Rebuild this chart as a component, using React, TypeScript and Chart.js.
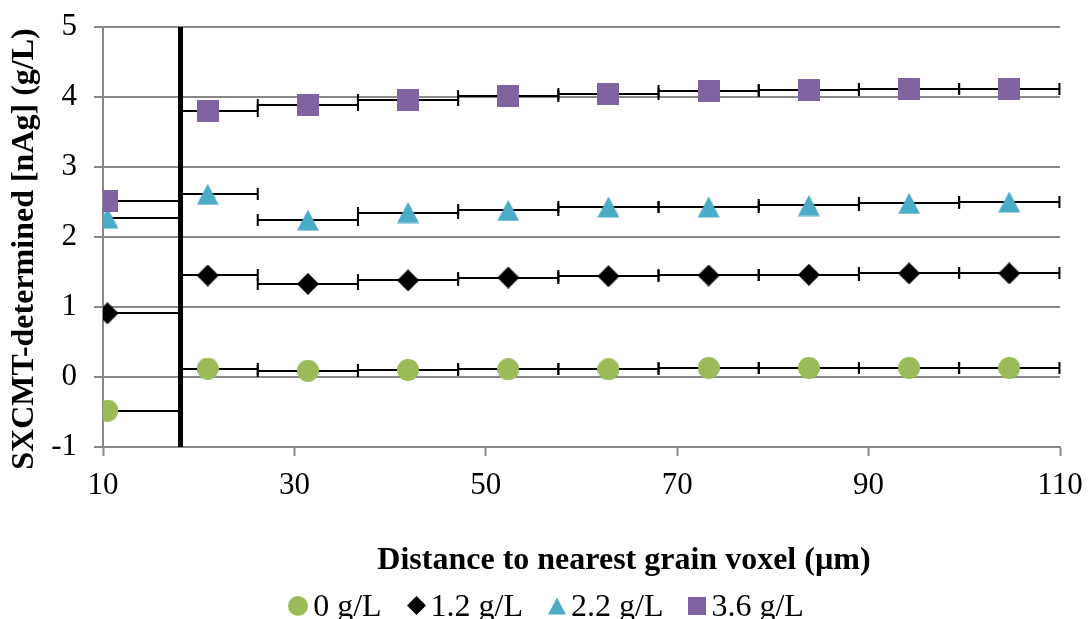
import React, { useEffect, useRef } from 'react';
import { Chart, registerables } from 'chart.js';

Chart.register(...registerables);

// Bin centres (µm) and the extent of each distance bin
const distances = [10.47, 20.94, 31.41, 41.88, 52.35, 62.82, 73.29, 83.76, 94.23, 104.7];
const binLow = [10.47, 18.1, 26.17, 36.64, 47.11, 57.58, 68.05, 78.52, 88.99, 99.46];
const binHigh = [18.1, 26.17, 36.64, 47.11, 57.58, 68.05, 78.52, 88.99, 99.46, 109.94];

// Boundary drawn as a heavy vertical rule
const cutoffDistance = 18.1;

// SXCMT-determined nAg concentration per bin (g/L)
const conc0 = [-0.48, 0.12, 0.09, 0.10, 0.11, 0.11, 0.13, 0.13, 0.13, 0.13];
const conc12 = [0.91, 1.45, 1.33, 1.38, 1.42, 1.44, 1.45, 1.46, 1.48, 1.48];
const conc22 = [2.27, 2.61, 2.24, 2.35, 2.38, 2.43, 2.43, 2.45, 2.48, 2.50];
const conc36 = [2.52, 3.80, 3.89, 3.96, 4.01, 4.05, 4.09, 4.10, 4.11, 4.11];

const seriesLabels = ['0 g/L', '1.2 g/L', '2.2 g/L', '3.6 g/L'];
const seriesValues = [conc0, conc12, conc22, conc36];
const seriesColors = ['#9BBB59', '#000000', '#4BACC6', '#8064A2'];
const seriesShapes = ['circle', 'diamond', 'triangle', 'square'];

const xTitle = 'Distance to nearest grain voxel (µm)';
const yTitle = 'SXCMT-determined [nAg] (g/L)';

const SERIF = '"Times New Roman", "Liberation Serif", serif';
const GRID = '#888888';

function makeMarker(shape: string, color: string, size: number): HTMLCanvasElement {
  const c = document.createElement('canvas');
  c.width = size;
  c.height = size;
  const g = c.getContext('2d') as CanvasRenderingContext2D;
  g.fillStyle = color;
  g.beginPath();
  const h = size / 2;
  if (shape === 'circle') {
    g.arc(h, h, h, 0, Math.PI * 2);
  } else if (shape === 'diamond') {
    g.moveTo(h, 0);
    g.lineTo(size, h);
    g.lineTo(h, size);
    g.lineTo(0, h);
    g.closePath();
  } else if (shape === 'triangle') {
    g.moveTo(h, 0.5);
    g.lineTo(size, size - 0.5);
    g.lineTo(0, size - 0.5);
    g.closePath();
  } else {
    g.rect(0, 0, size, size);
  }
  g.fill();
  return c;
}

// Horizontal bars spanning each distance bin, with end caps
const binBarsPlugin = {
  id: 'binBars',
  beforeDatasetsDraw(chart: any) {
    const { ctx, scales } = chart;
    const x = scales.x;
    const y = scales.y;
    ctx.save();
    ctx.strokeStyle = '#000000';
    ctx.lineWidth = 2;
    seriesValues.forEach((vals) => {
      vals.forEach((v, i) => {
        const py = Math.round(y.getPixelForValue(v));
        const x0 = x.getPixelForValue(binLow[i]);
        const x1 = x.getPixelForValue(binHigh[i]);
        ctx.beginPath();
        ctx.moveTo(x0, py);
        ctx.lineTo(x1, py);
        ctx.moveTo(x0, py - 6);
        ctx.lineTo(x0, py + 6);
        ctx.moveTo(x1, py - 6);
        ctx.lineTo(x1, py + 6);
        ctx.stroke();
      });
    });
    ctx.restore();
  },
};

// Axis titles and the legend row
const labelsPlugin = {
  id: 'labels',
  afterDraw(chart: any) {
    const { ctx } = chart;
    ctx.save();
    ctx.fillStyle = '#000000';

    ctx.font = `bold 32px ${SERIF}`;
    ctx.textAlign = 'center';
    ctx.textBaseline = 'alphabetic';
    ctx.fillText(xTitle, 624, 569);

    ctx.save();
    ctx.translate(33, 249);
    ctx.rotate(-Math.PI / 2);
    ctx.fillText(yTitle, 0, 0);
    ctx.restore();

    ctx.font = `32px ${SERIF}`;
    ctx.textAlign = 'left';
    const markerSizes = [20, 19, 18, 18];
    const gapMarker = 5;
    const gapItem = 25;
    const widths = seriesLabels.map((t) => ctx.measureText(t).width);
    let total = 0;
    widths.forEach((w, i) => {
      total += markerSizes[i] + gapMarker + w;
      if (i < widths.length - 1) total += gapItem;
    });
    let cx = 546 - total / 2;
    const baseline = 616;
    const midY = 605.5;
    seriesLabels.forEach((t, i) => {
      const s = markerSizes[i];
      const m = makeMarker(seriesShapes[i], seriesColors[i], s);
      ctx.drawImage(m, Math.round(cx), Math.round(midY - s / 2));
      cx += s + gapMarker;
      ctx.fillText(t, cx, baseline);
      cx += widths[i] + gapItem;
    });
    ctx.restore();
  },
};

export default function App() {
  const ref = useRef<HTMLCanvasElement | null>(null);

  useEffect(() => {
    if (!ref.current) return;
    const datasets: any[] = seriesLabels.map((label, si) => ({
      label,
      data: distances.map((d, i) => ({ x: d, y: seriesValues[si][i] })),
      pointStyle: makeMarker(seriesShapes[si], seriesColors[si], 22),
      pointRadius: 11,
      pointHoverRadius: 11,
      backgroundColor: seriesColors[si],
      borderColor: seriesColors[si],
      showLine: false,
      order: 10 - si,
    }));
    datasets.push({
      label: 'cutoff',
      data: [
        { x: cutoffDistance, y: -1 },
        { x: cutoffDistance, y: 5 },
      ],
      showLine: true,
      borderColor: '#000000',
      borderWidth: 5,
      pointRadius: 0,
      borderCapStyle: 'butt',
      order: 0,
    });

    const chart = new Chart(ref.current, {
      type: 'scatter',
      data: { datasets },
      plugins: [binBarsPlugin, labelsPlugin],
      options: {
        animation: false,
        responsive: false,
        layout: { padding: { left: 0, right: 28, top: 27, bottom: 0 } },
        plugins: {
          legend: { display: false },
          tooltip: { enabled: false },
        },
        scales: {
          x: {
            type: 'linear',
            min: 10,
            max: 110,
            ticks: {
              stepSize: 20,
              color: '#000000',
              font: { family: SERIF, size: 31 },
              padding: 11,
              maxRotation: 0,
            },
            grid: {
              drawOnChartArea: false,
              drawTicks: true,
              tickLength: 9,
              tickColor: GRID,
              tickWidth: 2,
              color: GRID,
            },
            border: { display: true, color: GRID, width: 2 },
            afterFit: (s: any) => {
              s.height = 172;
              s.paddingLeft = 0;
              s.paddingRight = 0;
            },
          },
          y: {
            type: 'linear',
            min: -1,
            max: 5,
            ticks: {
              stepSize: 1,
              color: '#000000',
              font: { family: SERIF, size: 31 },
              padding: 17,
            },
            grid: {
              color: GRID,
              lineWidth: 2,
              drawTicks: true,
              tickLength: 9,
              tickColor: GRID,
              tickWidth: 2,
            },
            border: { display: true, color: GRID, width: 2 },
            afterFit: (s: any) => {
              s.width = 103;
              s.paddingTop = 0;
              s.paddingBottom = 0;
            },
          },
        },
      },
    });
    return () => chart.destroy();
  }, []);

  return (
    <div style={{ position: 'fixed', left: 0, top: 0, width: 1088, height: 619, background: '#ffffff' }}>
      <canvas ref={ref} width={1088} height={619} style={{ display: 'block' }} />
    </div>
  );
}
